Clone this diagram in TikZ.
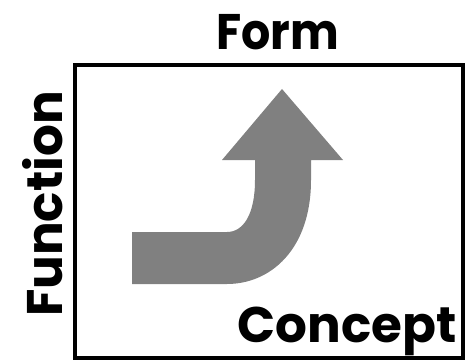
\documentclass[tikz,border=0pt]{standalone}
\usepackage{fontspec}
\setmainfont{Poppins}
\begin{document}
\begin{tikzpicture}[x=1pt,y=-1pt,
  lbl/.style={inner sep=0pt, font=\fontsize{50}{50}\selectfont\bfseries},
  frame/.style={draw=black, line width=4.5pt},
  grayarrow/.style={fill=black!50, draw=none}]
\useasboundingbox (0,0) rectangle (469,361);
\draw[frame] (75,65) rectangle (463,358);
\node[lbl, anchor=base, xscale=0.92] (form) at (277.5,50) {Form};
\node[lbl, anchor=base east] (concept) at (457,342) {Concept};
\node[lbl, anchor=base west, rotate=90] (function) at (62,317) {Function};
\fill[grayarrow] (132,232) -- (227,232) .. controls (243,232) and (255,215) .. (255,180)
  -- (255,160) -- (222,160) -- (282,89) -- (343,160) -- (311,160) -- (311,180)
  .. controls (311,250) and (270,284) .. (227,284) -- (132,284) -- cycle;
\end{tikzpicture}
\end{document}
